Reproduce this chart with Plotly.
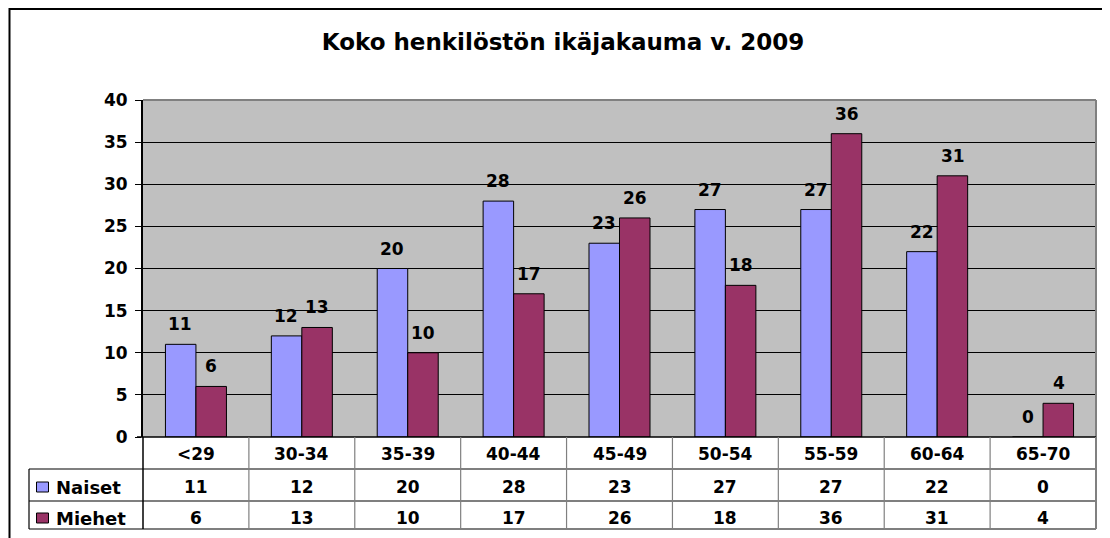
import plotly.graph_objects as go

categories = ["<29", "30-34", "35-39", "40-44", "45-49", "50-54", "55-59", "60-64", "65-70"]
series_names = ["Naiset", "Miehet"]
naiset = [11, 12, 20, 28, 23, 27, 27, 22, 0]
miehet = [6, 13, 10, 17, 26, 18, 36, 31, 4]
colors = ["#9999FF", "#993366"]
title_text = "Koko henkilöstön ikäjakauma v. 2009"

# page body has an 8px default margin; work in screen pixels and convert
OFF = 8
W, H = 1110 - OFF, 538 - OFF
L, R, T, B = 143, 1096, 100, 437  # plot area in screen pixels
FONT = "DejaVu Sans, Arial, sans-serif"
FS = 17


def xp(px):
    return (px - L) / (R - L)


def yp(py):
    return (B - py) / (B - T)


fig = go.Figure()
series = [naiset, miehet]
for name, vals, col in zip(series_names, series, colors):
    fig.add_trace(go.Bar(
        x=categories, y=vals, name=name,
        marker=dict(color=col, line=dict(color="black", width=1)),
        showlegend=False, hoverinfo="x+y+name",
    ))

shapes = []
annotations = []

# data labels above bars
for si, vals in enumerate(series):
    shift = -15.5 if si == 0 else 15.5
    for c, v in zip(categories, vals):
        annotations.append(dict(
            x=c, y=v, xref="x", yref="y", text=f"<b>{v}</b>", showarrow=False,
            xshift=shift, yshift=20, yanchor="middle",
            font=dict(family=FONT, size=FS, color="black"),
        ))

# outer chart border
shapes.append(dict(type="rect", xref="paper", yref="paper",
                   x0=xp(9.5), x1=xp(1130), y0=yp(9), y1=yp(560),
                   line=dict(color="black", width=2), layer="below"))

# plot area top and right border (gray)
shapes.append(dict(type="line", xref="paper", yref="paper",
                   x0=0, x1=1, y0=1, y1=1, line=dict(color="#808080", width=2)))
shapes.append(dict(type="line", xref="paper", yref="paper",
                   x0=1, x1=1, y0=0, y1=1, line=dict(color="#808080", width=2)))

# data table
rows_y = [437, 469, 501, 529]
shapes.append(dict(type="line", xref="paper", yref="paper",
                   x0=xp(137), x1=1, y0=yp(437), y1=yp(437), line=dict(color="black", width=1.5)))
for ry in rows_y[1:]:
    shapes.append(dict(type="line", xref="paper", yref="paper",
                       x0=xp(29), x1=1, y0=yp(ry), y1=yp(ry), line=dict(color="black", width=1.2)))
ncat = len(categories)
cw = (R - L) / ncat
for k in range(1, ncat):
    xx = L + k * cw
    shapes.append(dict(type="line", xref="paper", yref="paper",
                       x0=xp(xx), x1=xp(xx), y0=yp(437), y1=yp(rows_y[-1]),
                       line=dict(color="#808080", width=1.2)))
shapes.append(dict(type="line", xref="paper", yref="paper",
                   x0=0, x1=0, y0=yp(437), y1=yp(rows_y[-1]), line=dict(color="black", width=1.5)))
shapes.append(dict(type="line", xref="paper", yref="paper",
                   x0=1, x1=1, y0=yp(437), y1=yp(rows_y[-1]), line=dict(color="#808080", width=2)))
shapes.append(dict(type="line", xref="paper", yref="paper",
                   x0=xp(29), x1=xp(29), y0=yp(469), y1=yp(rows_y[-1]), line=dict(color="black", width=1.2)))

# header row (category labels)
for c in categories:
    annotations.append(dict(x=c, xref="x", y=yp(454), yref="paper", text=f"<b>{c}</b>",
                            showarrow=False, yanchor="middle",
                            font=dict(family=FONT, size=FS, color="black")))

# value rows + legend keys
row_centers = [487, 518]
for si, (name, vals, col) in enumerate(zip(series_names, series, colors)):
    cy = row_centers[si]
    for c, v in zip(categories, vals):
        annotations.append(dict(x=c, xref="x", y=yp(cy), yref="paper", text=f"<b>{v}</b>",
                                showarrow=False, yanchor="middle",
                                font=dict(family=FONT, size=FS, color="black")))
    shapes.append(dict(type="rect", xref="paper", yref="paper",
                       x0=xp(36.5), x1=xp(48.5), y0=yp(cy - 5), y1=yp(cy + 5),
                       fillcolor=col, line=dict(color="black", width=1)))
    annotations.append(dict(x=xp(54), xref="paper", y=yp(cy), yref="paper", text=f"<b>{name}</b>",
                            showarrow=False, xanchor="left", yanchor="middle",
                            font=dict(family=FONT, size=FS + 1, color="black")))

fig.update_layout(
    width=W, height=H,
    margin=dict(l=L - OFF, r=1110 - R, t=T - OFF, b=538 - B, pad=0),
    paper_bgcolor="white", plot_bgcolor="#C0C0C0",
    barmode="group", bargap=0.424, bargroupgap=0,
    title=dict(text=f"<b>{title_text}</b>", x=(563 - OFF) / W, xanchor="center",
               y=1 - (42 - OFF) / H, yanchor="middle",
               font=dict(family=FONT, size=23, color="black")),
    xaxis=dict(showticklabels=False, ticks="", showgrid=False, showline=False,
               zeroline=False, fixedrange=True),
    yaxis=dict(range=[0, 40], dtick=5, tick0=0, showgrid=True, gridcolor="black", gridwidth=1,
               ticks="outside", ticklen=6, tickcolor="black", tickwidth=1,
               showline=True, linecolor="black", linewidth=2, zeroline=False,
               tickfont=dict(family=FONT, size=FS, color="black", weight="bold"),
               ticklabelstandoff=4, fixedrange=True),
    shapes=shapes, annotations=annotations,
    font=dict(family=FONT),
)

fig.write_html("out.html")
